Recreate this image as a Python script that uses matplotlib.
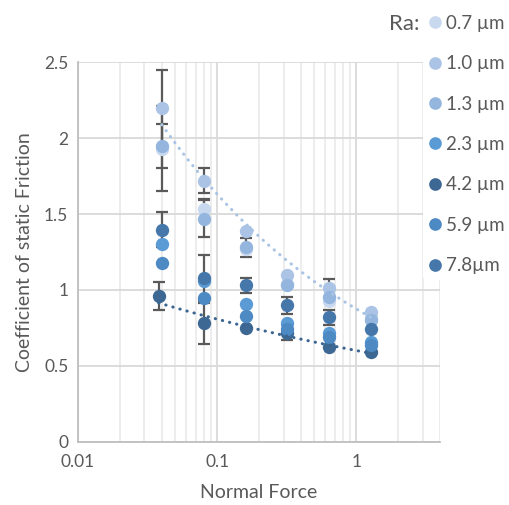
import numpy as np
import matplotlib
matplotlib.use("Agg")
import matplotlib.pyplot as plt

plt.rcParams["font.family"] = ["Lato", "DejaVu Sans"]

# ── Data ─────────────────────────────────────────────────────────────────────
force = [0.04, 0.08, 0.16, 0.32, 0.64, 1.28]
force_42 = [0.038, 0.08, 0.16, 0.32, 0.64, 1.28]

labels = ["0.7 µm", "1.0 µm", "1.3 µm", "2.3 µm", "4.2 µm", "5.9 µm", "7.8µm"]
colors = ["#c8d8ee", "#abc4e5", "#94b5de", "#5b9bd5", "#3d6893", "#4d89c2", "#4677aa"]

mu_07 = [1.93, 1.53, 1.27, 1.04, 0.93, 0.82]
mu_10 = [2.20, 1.72, 1.39, 1.10, 1.01, 0.855]
mu_13 = [1.95, 1.47, 1.28, 1.03, 0.955, 0.80]
mu_23 = [1.30, 1.06, 0.91, 0.78, 0.72, 0.66]
mu_42 = [0.96, 0.78, 0.75, 0.72, 0.625, 0.59]
mu_59 = [1.175, 0.95, 0.83, 0.745, 0.69, 0.635]
mu_78 = [1.395, 1.08, 1.03, 0.90, 0.82, 0.74]

err_07 = [0.28, 0.07, 0.0, 0.0, 0.0, 0.0]
err_10 = [0.25, 0.08, 0.0, 0.0, 0.06, 0.0]
err_13 = [0.145, 0.12, 0.06, 0.0, 0.0, 0.0]
err_23 = [0.0, 0.0, 0.0, 0.0, 0.0, 0.0]
err_42 = [0.09, 0.135, 0.0, 0.05, 0.0, 0.0]
err_59 = [0.0, 0.0, 0.0, 0.0, 0.0, 0.0]
err_78 = [0.115, 0.15, 0.05, 0.055, 0.05, 0.0]

series = [
    (force, mu_07, err_07),
    (force, mu_10, err_10),
    (force, mu_13, err_13),
    (force, mu_23, err_23),
    (force_42, mu_42, err_42),
    (force, mu_59, err_59),
    (force, mu_78, err_78),
]

GRID = "#d9d9d9"
TEXT = "#595959"

fig = plt.figure(figsize=(5.1, 5.05), dpi=100)
ax = fig.add_axes([0.153, 0.125, 0.710, 0.752])

handles = []
for (x, y, e), c, lab in zip(series, colors, labels):
    e = np.array(e)
    mask = e > 0
    if mask.any():
        ax.errorbar(np.array(x)[mask], np.array(y)[mask], yerr=e[mask], fmt="none",
                    ecolor="#5a5a5a", elinewidth=1.6, capsize=4, capthick=1.6, zorder=2)
    h, = ax.plot(x, y, "o", color=c, markersize=9.6, markeredgewidth=0, zorder=3, label=lab)
    handles.append(h)

# Power-law trendlines (linear fit in log-log space)
def power_fit(x, y):
    b, a = np.polyfit(np.log(x), np.log(y), 1)
    xs = np.geomspace(min(x), max(x), 200)
    return xs, np.exp(a) * xs ** b

for (x, y, _), c in [(series[1], "#a9c3e5"), (series[4], "#3a6591")]:
    xs, ys = power_fit(x, y)
    ax.plot(xs, ys, color=c, linewidth=2.2, linestyle=(0, (0.1, 2.3)),
            dash_capstyle="round", zorder=4)

ax.set_xscale("log")
ax.set_xlim(0.01, 4)
ax.set_ylim(0, 2.5)
ax.set_yticks([0, 0.5, 1, 1.5, 2, 2.5])
ax.set_yticklabels(["0", "0.5", "1", "1.5", "2", "2.5"])
ax.set_xticks([0.01, 0.1, 1])
ax.set_xticklabels(["0.01", "0.1", "1"])
ax.minorticks_on()
ax.yaxis.set_minor_locator(matplotlib.ticker.NullLocator())
ax.tick_params(which="both", length=0, colors=TEXT, labelsize=12.5)
ax.tick_params(axis="y", pad=7)
ax.tick_params(axis="x", pad=9)
ax.grid(True, which="major", color=GRID, linewidth=1.3, zorder=0)
ax.grid(True, which="minor", axis="x", color="#e8e8e8", linewidth=1.1, zorder=0)
ax.set_axisbelow(True)

for side in ["top", "right"]:
    ax.spines[side].set_visible(False)
for side in ["left", "bottom"]:
    ax.spines[side].set_color("#bfbfbf")
    ax.spines[side].set_linewidth(1.3)

ax.set_xlabel("Normal Force", fontsize=14, color=TEXT, labelpad=10)
ax.set_ylabel("Coefficient of static Friction", fontsize=14, color=TEXT, labelpad=8)

leg = fig.legend(handles=handles, loc="upper left", bbox_to_anchor=(0.830, 0.982),
                 frameon=True, facecolor="white", edgecolor="none", framealpha=1,
                 fontsize=13.5, markerscale=0.95, handlelength=0.7, handletextpad=0.2,
                 labelspacing=1.25, borderpad=0.3, borderaxespad=0)
for t in leg.get_texts():
    t.set_color(TEXT)
fig.text(0.763, 0.953, "Ra:", fontsize=16, color=TEXT, va="center", ha="left")

fig.savefig("out.png", dpi=100)
